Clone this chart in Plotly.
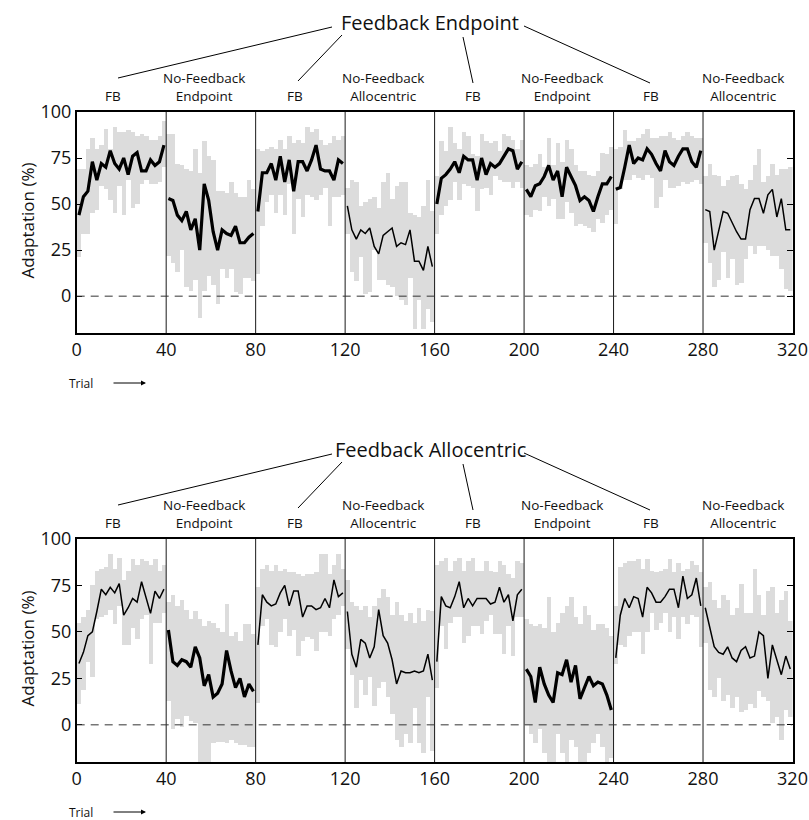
import plotly.graph_objects as go

W, H = 809, 820

# ---------------- data ----------------
seg_labels = ["FB", "No-Feedback<br>Endpoint", "FB", "No-Feedback<br>Allocentric",
              "FB", "No-Feedback<br>Endpoint", "FB", "No-Feedback<br>Allocentric"]
x_ticks = [0, 40, 80, 120, 160, 200, 240, 280, 320]
y_ticks = [0, 25, 50, 75, 100]
trials_per_bin = 2
n_segments = 8
bins_per_segment = 20

top_title = "Feedback Endpoint"
bot_title = "Feedback Allocentric"
top_thick = [True, True, True, False, True, True, True, False]
bot_thick = [False, True, False, False, False, True, False, False]

top_mean = [
    44, 54, 57, 73, 63, 72, 70, 79, 72, 69, 75, 66, 76, 78, 68, 68, 74, 71, 73, 82,
    53, 52, 44, 41, 46, 36, 42, 25, 61, 52, 35, 25, 36, 34, 33, 38, 29, 29, 32, 34,
    46, 67, 67, 72, 63, 76, 62, 74, 57, 73, 73, 68, 74, 82, 69, 68, 68, 63, 74, 72,
    49, 36, 31, 36, 34, 37, 27, 23, 33, 35, 37, 27, 29, 28, 36, 19, 19, 14, 27, 16,
    50, 64, 66, 69, 73, 67, 76, 74, 74, 63, 75, 66, 72, 70, 72, 76, 80, 79, 69, 73,
    58, 54, 60, 61, 65, 71, 63, 68, 54, 70, 65, 60, 52, 54, 52, 46, 54, 61, 61, 65,
    58, 59, 70, 82, 72, 75, 74, 80, 77, 72, 68, 79, 73, 71, 76, 80, 80, 73, 70, 79,
    47, 46, 25, 36, 46, 45, 40, 35, 31, 31, 47, 53, 53, 45, 55, 58, 43, 53, 36, 36,
]
top_hi = [
    69, 69, 80, 86, 80, 82, 91, 80, 92, 89, 89, 90, 89, 87, 88, 87, 85, 85, 87, 95,
    88, 88, 72, 71, 69, 68, 80, 67, 84, 76, 74, 57, 57, 56, 62, 56, 54, 54, 63, 58,
    80, 79, 80, 81, 80, 85, 80, 87, 83, 85, 83, 92, 89, 91, 85, 82, 83, 87, 85, 87,
    59, 63, 62, 49, 51, 53, 54, 48, 62, 67, 53, 60, 62, 62, 45, 44, 43, 49, 63, 46,
    65, 84, 79, 92, 83, 80, 89, 87, 77, 76, 88, 84, 83, 84, 79, 88, 87, 85, 80, 85,
    71, 70, 72, 77, 70, 86, 71, 83, 73, 85, 80, 71, 68, 68, 66, 65, 68, 78, 77, 81,
    80, 81, 90, 84, 84, 86, 88, 91, 86, 86, 87, 87, 89, 86, 85, 87, 89, 87, 86, 86,
    65, 72, 66, 65, 60, 63, 65, 66, 61, 58, 63, 71, 80, 62, 65, 72, 66, 69, 69, 70,
]
top_lo = [
    21, 34, 34, 45, 47, 60, 58, 52, 45, 60, 44, 63, 48, 50, 61, 63, 61, 61, 62, 70,
    22, 18, 13, 25, 5, 3, 9, -12, 3, 11, 6, -4, 15, 10, 15, 2, 1, 10, 10, 8,
    12, 38, 51, 55, 45, 55, 44, 61, 34, 53, 43, 55, 54, 52, 55, 59, 38, 54, 54, 55,
    34, 13, 8, 21, 1, 2, 25, 9, 9, 6, 5, 0, -2, -5, 10, -18, -2, -18, -7, -14,
    34, 44, 49, 52, 62, 52, 61, 60, 59, 46, 58, 59, 55, 65, 63, 62, 62, 59, 62, 59,
    44, 43, 47, 46, 54, 49, 53, 42, 42, 51, 45, 38, 39, 38, 37, 35, 42, 40, 44, 47,
    39, 58, 63, 63, 66, 64, 63, 66, 64, 48, 54, 63, 59, 59, 60, 62, 61, 62, 63, 61,
    29, 18, 5, 9, 24, 10, 20, 6, 7, 20, 27, 23, 27, 27, 25, 22, 22, 15, 4, 3,
]

bot_mean = [
    33, 39, 48, 50, 61, 73, 70, 74, 71, 76, 59, 63, 68, 66, 77, 69, 60, 72, 68, 73,
    51, 34, 32, 35, 34, 31, 42, 36, 21, 27, 15, 17, 22, 40, 29, 20, 25, 15, 22, 18,
    43, 70, 66, 64, 65, 71, 75, 64, 72, 72, 58, 64, 64, 62, 63, 68, 63, 78, 69, 71,
    61, 38, 31, 46, 44, 36, 42, 62, 48, 44, 35, 22, 29, 28, 28, 29, 28, 29, 38, 24,
    34, 69, 64, 63, 69, 77, 63, 68, 64, 68, 68, 68, 65, 66, 74, 66, 70, 56, 70, 73,
    30, 26, 12, 31, 22, 16, 12, 28, 27, 35, 23, 32, 14, 20, 26, 21, 23, 22, 16, 8,
    36, 59, 68, 63, 69, 68, 58, 74, 71, 66, 66, 69, 73, 73, 63, 80, 68, 70, 79, 64,
    63, 52, 42, 39, 38, 42, 36, 34, 40, 42, 36, 37, 50, 48, 25, 43, 35, 27, 37, 30,
]
bot_hi = [
    55, 58, 62, 75, 83, 84, 85, 92, 84, 90, 78, 83, 89, 86, 89, 88, 86, 89, 83, 86,
    66, 70, 64, 67, 62, 57, 61, 57, 53, 56, 55, 52, 50, 65, 48, 50, 45, 54, 54, 49,
    74, 84, 86, 83, 86, 83, 84, 82, 82, 81, 80, 81, 81, 82, 92, 92, 81, 86, 92, 84,
    78, 66, 64, 62, 64, 58, 64, 68, 73, 69, 59, 66, 59, 56, 60, 55, 63, 56, 62, 61,
    86, 88, 90, 83, 88, 90, 83, 88, 90, 83, 83, 88, 83, 82, 88, 86, 81, 79, 88, 87,
    57, 54, 53, 54, 52, 69, 50, 55, 60, 64, 69, 58, 54, 64, 59, 51, 54, 54, 52, 48,
    64, 85, 87, 88, 88, 89, 84, 89, 83, 82, 83, 84, 89, 82, 87, 83, 84, 88, 86, 82,
    74, 77, 67, 63, 70, 67, 59, 63, 76, 60, 60, 84, 70, 59, 72, 74, 60, 67, 72, 56,
]
bot_lo = [
    11, 19, 34, 26, 57, 58, 59, 62, 54, 64, 43, 43, 52, 46, 57, 59, 33, 55, 55, 60,
    13, -2, 3, -1, 5, 2, 1, -20, -20, -20, -10, -9, -9, -10, -8, -10, -11, -11, -12, -12,
    12, 53, 57, 43, 42, 50, 57, 48, 51, 37, 45, 47, 46, 40, 50, 50, 48, 57, 59, 64,
    41, 27, 9, 24, 16, 26, 10, 20, 23, 15, 6, -8, -12, -5, -10, 9, -10, -15, 15, -14,
    20, 53, 41, 55, 58, 58, 44, 48, 53, 53, 49, 56, 59, 49, 49, 38, 53, 37, 58, 58,
    0, -5, -10, -2, -15, -20, -20, -5, -15, -20, -8, -12, -20, -20, -15, -10, -5, -12, -20, -18,
    33, 43, 42, 48, 50, 50, 38, 50, 60, 51, 55, 60, 50, 58, 46, 58, 54, 59, 58, 42,
    44, 19, 15, 25, 13, 16, 9, 15, 7, 8, 11, 9, 18, 15, 13, 1, 4, -8, 8, 4,
]

# ---------------- layout helpers ----------------
FONT = "Open Sans"
X_LEFT, X_RIGHT = 76.7, 792.5
TOP_PANEL = (112, 333)
BOT_PANEL = (539, 762)


def px(x):
    return x / W


def py(y):
    return 1 - y / H


bin_centers = [trials_per_bin * i + trials_per_bin / 2 for i in range(n_segments * bins_per_segment)]

fig = go.Figure()

panels = [
    ("x", "y", top_mean, top_lo, top_hi, top_thick),
    ("x2", "y2", bot_mean, bot_lo, bot_hi, bot_thick),
]
for xa, ya, mean, lo, hi, thick in panels:
    fig.add_trace(go.Bar(
        x=bin_centers, y=[h - l for h, l in zip(hi, lo)], base=lo,
        width=trials_per_bin, marker=dict(color="#dcdcdc", line=dict(width=0)),
        xaxis=xa, yaxis=ya, showlegend=False, hoverinfo="skip"))
    for s in range(n_segments):
        a, b = s * bins_per_segment, (s + 1) * bins_per_segment
        fig.add_trace(go.Scatter(
            x=bin_centers[a:b], y=mean[a:b], mode="lines",
            line=dict(color="black", width=3.2 if thick[s] else 1.5),
            xaxis=xa, yaxis=ya, showlegend=False, hoverinfo="skip"))

axis_common = dict(showgrid=False, zeroline=False, showline=True, linecolor="black",
                   linewidth=1.5, mirror=True, automargin=False,
                   tickfont=dict(family=FONT, size=18, color="#111"))

xdom = [px(X_LEFT), px(X_RIGHT)]
fig.update_layout(
    width=W, height=H, margin=dict(l=0, r=0, t=0, b=0),
    paper_bgcolor="white", plot_bgcolor="white",
    barmode="overlay", bargap=0,
    xaxis=dict(domain=xdom, anchor="y", range=[0, 320], tickvals=x_ticks, ticks="", **axis_common),
    yaxis=dict(domain=[py(TOP_PANEL[1]), py(TOP_PANEL[0])], anchor="x", range=[-20, 100],
               tickvals=y_ticks, ticks="inside", ticklen=6, tickcolor="black", **{**axis_common, "mirror": "ticks"}),
    xaxis2=dict(domain=xdom, anchor="y2", range=[0, 320], tickvals=x_ticks, ticks="", **axis_common),
    yaxis2=dict(domain=[py(BOT_PANEL[1]), py(BOT_PANEL[0])], anchor="x2", range=[-20, 100],
                tickvals=y_ticks, ticks="inside", ticklen=6, tickcolor="black", **{**axis_common, "mirror": "ticks"}),
)

shapes = []
annotations = []
label_px = [113, 204, 295, 383, 473, 562, 651, 743]
title_lines = [((332, -85), (118, -34)), ((342, -77), (298, -31)),
               ((463, -75), (473, -29)), ((524, -86), (650, -29))]

for (xa, ya), (ptop, pbot), title in [(("x", "y"), TOP_PANEL, top_title),
                                      (("x2", "y2"), BOT_PANEL, bot_title)]:
    # separators
    for t in x_ticks[1:-1]:
        shapes.append(dict(type="line", xref=xa, yref=f"{ya} domain", x0=t, x1=t, y0=0, y1=1,
                           line=dict(color="#1a1a1a", width=1), layer="above"))
    # zero dashed line
    shapes.append(dict(type="line", xref=xa, yref=ya, x0=0, x1=320, y0=0, y1=0,
                       line=dict(color="#333", width=1, dash="8px,6px"), layer="above"))
    # title connectors
    for (x0, y0), (x1, y1) in title_lines:
        shapes.append(dict(type="line", xref="paper", yref="paper",
                           x0=px(x0), y0=py(ptop + y0), x1=px(x1), y1=py(ptop + y1),
                           line=dict(color="black", width=1)))
    annotations.append(dict(text=title, xref="paper", yref="paper", x=px(430), y=py(ptop - 90),
                            xanchor="center", yanchor="middle", showarrow=False,
                            font=dict(family=FONT, size=20, color="#111")))
    for lbl, lx in zip(seg_labels, label_px):
        annotations.append(dict(text=lbl, xref="paper", yref="paper", x=px(lx), y=py(ptop - 5),
                                xanchor="center", yanchor="bottom", align="center", showarrow=False,
                                font=dict(family=FONT, size=13.5, color="#111")))
    annotations.append(dict(text="Adaptation (%)", xref="paper", yref="paper", x=px(27),
                            y=py((ptop + pbot) / 2 - 2), textangle=-90, showarrow=False,
                            xanchor="center", yanchor="middle",
                            font=dict(family=FONT, size=17, color="#111")))
    ty = pbot + 50
    annotations.append(dict(text="Trial", xref="paper", yref="paper", x=px(81), y=py(ty),
                            xanchor="center", yanchor="middle", showarrow=False,
                            font=dict(family=FONT, size=12, color="#111")))
    annotations.append(dict(text="", xref="paper", yref="paper", x=px(146), y=py(ty),
                            ax=-34, ay=0, showarrow=True, arrowhead=2, arrowsize=1,
                            arrowwidth=1, arrowcolor="black"))

fig.update_layout(shapes=shapes, annotations=annotations)
fig.write_html("out.html")
